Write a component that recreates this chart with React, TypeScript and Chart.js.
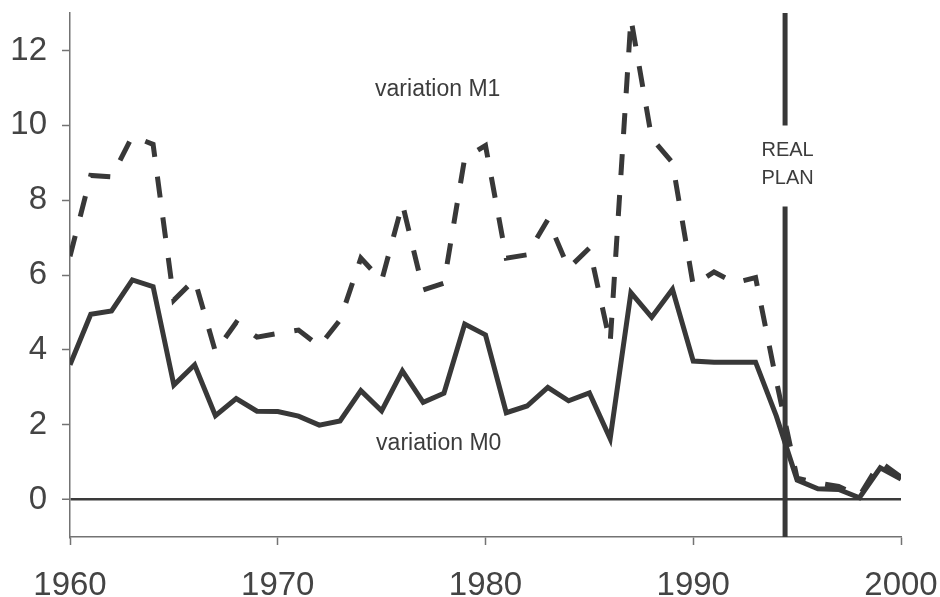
import React, { useEffect, useRef } from 'react';
import { Chart, registerables } from 'chart.js';

Chart.register(...registerables);

const years = [
  1960, 1961, 1962, 1963, 1964, 1965, 1966, 1967, 1968, 1969,
  1970, 1971, 1972, 1973, 1974, 1975, 1976, 1977, 1978, 1979,
  1980, 1981, 1982, 1983, 1984, 1985, 1986, 1987, 1988, 1989,
  1990, 1991, 1992, 1993, 1994, 1995, 1996, 1997, 1998, 1999, 2000,
];

const variationM0 = [
  3.6, 4.95, 5.04, 5.87, 5.69, 3.06, 3.6, 2.24, 2.7, 2.36,
  2.35, 2.23, 1.99, 2.1, 2.91, 2.37, 3.44, 2.6, 2.84, 4.69,
  4.4, 2.32, 2.5, 3.0, 2.64, 2.85, 1.63, 5.53, 4.87, 5.62,
  3.7, 3.67, 3.67, 3.67, 2.23, 0.52, 0.29, 0.27, 0.05, 0.85, 0.55,
];

const variationM1 = [
  6.5, 8.66, 8.62, 9.71, 9.49, 5.33, 5.88, 3.95, 4.73, 4.34,
  4.44, 4.53, 4.1, 4.8, 6.45, 5.85, 7.9, 5.6, 5.78, 9.13,
  9.46, 6.45, 6.54, 7.48, 6.18, 6.72, 4.18, 12.85, 9.65, 9.0,
  5.72, 6.08, 5.79, 5.93, 3.17, 0.57, 0.44, 0.35, 0.1, 1.0, 0.6,
];

const yTickValues = [0, 2, 4, 6, 8, 10, 12];
const xTickValues = [1960, 1970, 1980, 1990, 2000];

const realPlanYear = 1994.42;
const realPlanLabel = ['REAL', 'PLAN'];
const realPlanLabelBaselines = [9.17, 8.44];
const realPlanGap = [9.995, 7.83];

const seriesLabels = [
  { text: 'variation M1', x: 1977.7, y: 10.78 },
  { text: 'variation M0', x: 1977.75, y: 1.32 },
];

const FONT = '"Liberation Sans", Arial, Helvetica, sans-serif';
const LINE = '#383838';
const AXIS = '#737373';
const TEXT = '#3c3c3c';

const annotations = {
  id: 'annotations',
  afterDatasetsDraw(chart: any) {
    const { ctx, chartArea, scales } = chart;
    const x = scales.x;
    const y = scales.y;
    ctx.save();
    const px = x.getPixelForValue(realPlanYear);
    ctx.strokeStyle = LINE;
    ctx.lineWidth = 5;
    ctx.lineCap = 'butt';
    ctx.beginPath();
    ctx.moveTo(px, chartArea.top);
    ctx.lineTo(px, y.getPixelForValue(realPlanGap[0]));
    ctx.moveTo(px, y.getPixelForValue(realPlanGap[1]));
    ctx.lineTo(px, chartArea.bottom);
    ctx.stroke();

    ctx.fillStyle = TEXT;
    ctx.textAlign = 'center';
    ctx.textBaseline = 'alphabetic';
    ctx.font = `20px ${FONT}`;
    realPlanLabel.forEach((t, i) => {
      ctx.fillText(t, px + 2.5, y.getPixelForValue(realPlanLabelBaselines[i]));
    });

    ctx.font = `23px ${FONT}`;
    seriesLabels.forEach((l) => {
      ctx.fillText(l.text, x.getPixelForValue(l.x), y.getPixelForValue(l.y));
    });
    ctx.restore();
  },
};

const zeroPadding = (s: any) => {
  s.paddingTop = 0;
  s.paddingBottom = 0;
  s.paddingLeft = 0;
  s.paddingRight = 0;
};

export default function App() {
  const canvasRef = useRef<HTMLCanvasElement | null>(null);

  useEffect(() => {
    const canvas = canvasRef.current;
    if (!canvas) return;
    const chart = new Chart(canvas, {
      type: 'line',
      data: {
        datasets: [
          {
            label: 'variation M1',
            data: years.map((yr, i) => ({ x: yr, y: variationM1[i] })),
            borderColor: LINE,
            borderWidth: 5,
            borderDash: [21, 20],
            borderJoinStyle: 'miter',
            borderCapStyle: 'butt',
            pointRadius: 0,
            tension: 0,
            fill: false,
          },
          {
            label: 'variation M0',
            data: years.map((yr, i) => ({ x: yr, y: variationM0[i] })),
            borderColor: LINE,
            borderWidth: 5,
            borderJoinStyle: 'miter',
            pointRadius: 0,
            tension: 0,
            fill: false,
          },
        ],
      },
      options: {
        animation: false,
        responsive: false,
        maintainAspectRatio: false,
        devicePixelRatio: 1,
        layout: { padding: { top: 13, right: 39, left: 0, bottom: 0 } },
        plugins: {
          legend: { display: false },
          tooltip: { enabled: false },
        },
        scales: {
          x: {
            type: 'linear',
            min: 1960,
            max: 2000,
            afterBuildTicks: (s: any) => {
              s.ticks = xTickValues.map((v) => ({ value: v }));
            },
            afterFit: (s: any) => {
              s.height = 60;
              zeroPadding(s);
            },
            ticks: {
              autoSkip: false,
              maxRotation: 0,
              minRotation: 0,
              padding: 21,
              color: '#444',
              font: { family: FONT, size: 33 },
              callback: (v: any) => String(v),
            },
            grid: {
              drawOnChartArea: false,
              drawTicks: true,
              tickLength: 8,
              tickColor: AXIS,
              tickWidth: 1.5,
            },
            border: { display: true, color: AXIS, width: 1.5 },
          },
          y: {
            type: 'linear',
            min: -1,
            max: 13,
            afterBuildTicks: (s: any) => {
              s.ticks = yTickValues.map((v) => ({ value: v }));
            },
            afterFit: (s: any) => {
              s.width = 70;
              zeroPadding(s);
            },
            ticks: {
              padding: 15,
              color: '#444',
              font: { family: FONT, size: 33 },
              callback: (v: any) => String(v),
            },
            grid: {
              drawOnChartArea: true,
              drawTicks: true,
              tickLength: 8,
              color: (c: any) => (c.tick && c.tick.value === 0 ? '#3a3a3a' : 'rgba(0,0,0,0)'),
              lineWidth: (c: any) => (c.tick && c.tick.value === 0 ? 2.5 : 1),
              tickColor: AXIS,
              tickWidth: 1.5,
            },
            border: { display: true, color: AXIS, width: 1.5 },
          },
        },
      },
      plugins: [annotations],
    });
    return () => chart.destroy();
  }, []);

  return (
    <div style={{ position: 'fixed', left: 0, top: 0, width: 940, height: 597, background: '#fff' }}>
      <canvas ref={canvasRef} width={940} height={597} style={{ width: 940, height: 597, display: 'block' }} />
    </div>
  );
}
